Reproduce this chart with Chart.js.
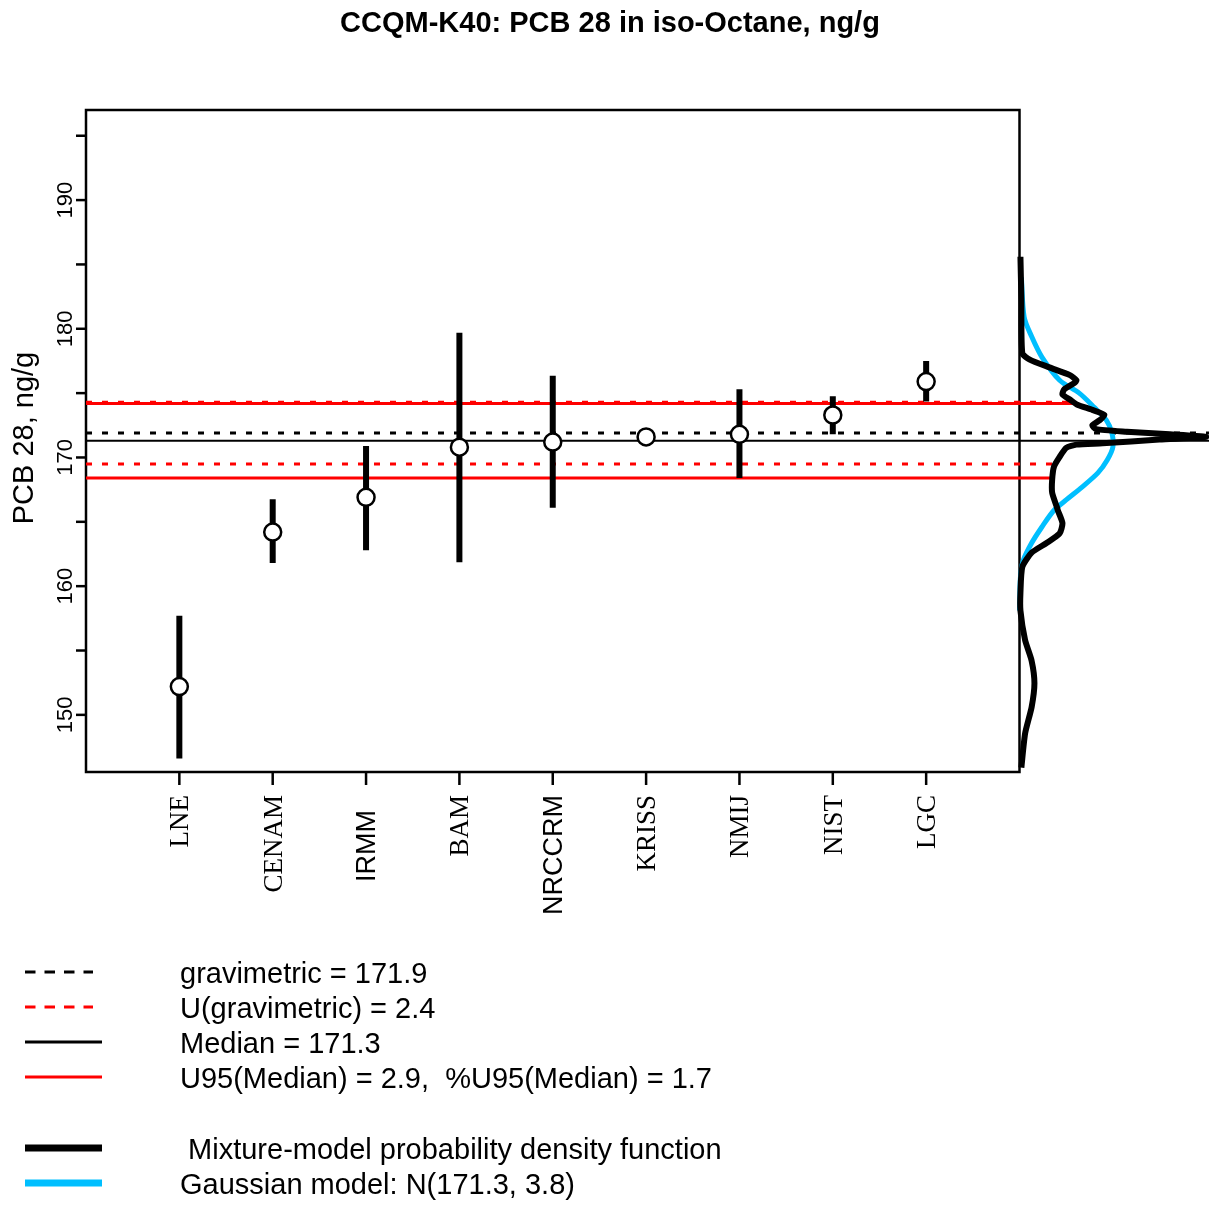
<!DOCTYPE html>
<html>
<head>
<meta charset="utf-8">
<script src="https://cdn.jsdelivr.net/npm/chart.js@4"></script>
<style>
  body { margin: 0; background: #fff; }
</style>
</head>
<body>
<canvas id="myChart" width="1209" height="1205"></canvas>
<script>
// lab results
const labs = ['LNE', 'CENAM', 'IRMM  ', 'BAM', 'NRCCRM', 'KRISS', 'NMIJ', 'NIST', 'LGC']
const sansLabs = ['IRMM  ', 'NRCCRM']
const results = [152.2, 164.2, 166.9, 170.8, 171.2, 171.6, 171.8, 173.3, 175.9]
const lower = [146.6, 161.8, 162.8, 161.85, 166.1, 171.1, 168.4, 171.8, 174.35]
const upper = [157.7, 166.75, 170.9, 179.7, 176.35, 172.1, 175.3, 174.75, 177.5]

const gravimetric = 171.9
const uGrav = 2.4
const median = 171.3
const u95 = 2.9
const pctU95 = 1.7

const yTicks = [150, 155, 160, 165, 170, 175, 180, 185, 190, 195]
const yLabels = [150, 160, 170, 180, 190]

// densities drawn in the right margin: level (ng/g) and height past the frame (x units)
const mixY = [185.6, 182.3, 178.1, 177.6, 177.0, 176.4, 176.0, 175.8, 175.3, 174.9, 174.5, 174.1, 173.7, 173.3, 172.9, 172.5, 172.2, 172.0, 171.8, 171.6, 171.4, 171.1, 171.0, 170.75, 170.05, 169.3, 168.3, 167.25, 166.15, 165.9, 164.9, 164.1, 163.35, 162.6, 161.5, 159.5, 158.1, 155.8, 154.2, 152.45, 150.6, 148.55, 145.9]
const mixD = [0.01, 0.02, 0.03, 0.11, 0.32, 0.54, 0.61, 0.59, 0.48, 0.46, 0.54, 0.62, 0.78, 0.91, 0.86, 0.78, 0.82, 1.15, 1.61, 2.0, 1.5, 0.89, 0.61, 0.50, 0.43, 0.37, 0.35, 0.35, 0.40, 0.41, 0.46, 0.43, 0.29, 0.13, 0.03, 0.01, 0.01, 0.06, 0.13, 0.16, 0.13, 0.06, 0.02]
const gaussY = [184.0, 180.9, 179.4, 177.8, 176.0, 175.0, 173.9, 172.9, 171.9, 170.8, 169.8, 168.8, 167.7, 166.7, 165.9, 164.6, 163.35, 162.0, 160.7, 158.1]
const gaussD = [0.02, 0.05, 0.13, 0.24, 0.43, 0.64, 0.80, 0.93, 0.99, 1.00, 0.94, 0.84, 0.67, 0.50, 0.37, 0.24, 0.13, 0.04, 0.01, 0.0]

const XMAX = 12.03
const FRAME_X = 10
const SANS = "'Liberation Sans', Arial, sans-serif"
const SERIF = "'Liberation Serif', 'Times New Roman', serif"
const CYAN = '#00BFFF'

const pts = results.map((v, i) => ({ x: i + 1, y: v }))
const bars = []
results.forEach((v, i) => {
    bars.push({ x: i + 1, y: lower[i] }, { x: i + 1, y: upper[i] }, { x: i + 1, y: null })
})
const hline = (v, x2) => [{ x: 0, y: v }, { x: x2, y: v }]

const datasets = [
    { data: pts, showLine: false, pointRadius: 8.5, pointBorderWidth: 2.5,
      pointBackgroundColor: '#fff', pointBorderColor: '#000', order: 0 },
    { data: bars, showLine: true, spanGaps: false, borderColor: '#000', borderWidth: 6,
      pointRadius: 0, order: 1 },
    { data: mixY.map((y, i) => ({ x: FRAME_X + mixD[i], y })), showLine: true,
      borderColor: '#000', borderWidth: 6, pointRadius: 0, tension: 0.2, borderJoinStyle: 'round', order: 2 },
    { data: gaussY.map((y, i) => ({ x: FRAME_X + gaussD[i], y })), showLine: true,
      borderColor: CYAN, borderWidth: 5, pointRadius: 0, tension: 0.3, order: 3 },
    { data: hline(median, XMAX), showLine: true, borderColor: '#000', borderWidth: 2, pointRadius: 0, order: 4 },
    { data: hline(gravimetric, XMAX), showLine: true, borderColor: '#000', borderWidth: 3,
      borderDash: [6, 10], pointRadius: 0, order: 5 },
    { data: hline(median + u95, 10.6), showLine: true, borderColor: '#f00', borderWidth: 3, pointRadius: 0, order: 6 },
    { data: hline(median - u95, 10.35), showLine: true, borderColor: '#f00', borderWidth: 3, pointRadius: 0, order: 6 },
    { data: hline(gravimetric + uGrav, 10.6), showLine: true, borderColor: '#f00', borderWidth: 3,
      borderDash: [6, 10], pointRadius: 0, order: 7 },
    { data: hline(gravimetric - uGrav, 10.4), showLine: true, borderColor: '#f00', borderWidth: 3,
      borderDash: [6, 10], pointRadius: 0, order: 7 }
]

const rotText = (ctx, text, x, y, align) => {
    ctx.save()
    ctx.translate(x, y)
    ctx.rotate(-Math.PI / 2)
    ctx.textAlign = align
    ctx.textBaseline = 'alphabetic'
    ctx.fillText(text, 0, 0)
    ctx.restore()
}

const legendRows = [
    { text: 'gravimetric = ' + gravimetric, color: '#000', w: 3, dash: [10.5, 9], x2: 93 },
    { text: 'U(gravimetric) = ' + uGrav, color: '#f00', w: 3, dash: [10.5, 9], x2: 93 },
    { text: 'Median = ' + median, color: '#000', w: 3, dash: [], x2: 102 },
    { text: 'U95(Median) = ' + u95 + ',  %U95(Median) = ' + pctU95, color: '#f00', w: 3, dash: [], x2: 102 },
    { gap: true },
    { text: ' Mixture-model probability density function', color: '#000', w: 7, dash: [], x2: 102 },
    { text: 'Gaussian model: N(' + median + ', 3.8)', color: CYAN, w: 7, dash: [], x2: 102 }
]

const axisArt = {
    id: 'axisArt',
    beforeDatasetsDraw(chart) {
        const { ctx, chartArea, scales: { x } } = chart
        ctx.save()
        ctx.strokeStyle = '#000'
        ctx.lineWidth = 2.5
        const right = x.getPixelForValue(FRAME_X)
        ctx.strokeRect(chartArea.left, chartArea.top, right - chartArea.left, chartArea.bottom - chartArea.top)
        ctx.restore()
    },
    afterDraw(chart) {
        const { ctx, chartArea, scales: { x, y } } = chart
        ctx.save()
        ctx.fillStyle = '#000'
        ctx.strokeStyle = '#000'
        ctx.lineWidth = 2.5

        // y ticks
        yTicks.forEach(v => {
            const py = y.getPixelForValue(v)
            ctx.beginPath()
            ctx.moveTo(chartArea.left - 10, py)
            ctx.lineTo(chartArea.left, py)
            ctx.stroke()
        })
        ctx.font = '22px ' + SANS
        yLabels.forEach(v => rotText(ctx, String(v), 72, y.getPixelForValue(v), 'center'))

        // x ticks + lab names
        labs.forEach((lab, i) => {
            const px = x.getPixelForValue(i + 1)
            ctx.beginPath()
            ctx.moveTo(px, chartArea.bottom)
            ctx.lineTo(px, chartArea.bottom + 13)
            ctx.stroke()
            ctx.font = '27px ' + (sansLabs.includes(lab) ? SANS : SERIF)
            rotText(ctx, lab, px + 9, 795, 'right')
        })

        // axis title
        ctx.font = '29px ' + SANS
        rotText(ctx, 'PCB 28, ng/g', 33, 438, 'center')

        // main title
        ctx.font = 'bold 29px ' + SANS
        ctx.textAlign = 'center'
        ctx.textBaseline = 'alphabetic'
        ctx.fillText('CCQM-K40: PCB 28 in iso-Octane, ng/g', 610, 32)

        // legend
        let ly = 972
        legendRows.forEach(r => {
            if (r.gap) { ly += 36; return }
            ctx.save()
            ctx.strokeStyle = r.color
            ctx.lineWidth = r.w
            ctx.setLineDash(r.dash)
            ctx.beginPath()
            ctx.moveTo(25, ly)
            ctx.lineTo(r.x2, ly)
            ctx.stroke()
            ctx.restore()
            ctx.font = '29px ' + SANS
            ctx.textAlign = 'left'
            ctx.fillText(r.text, 180, ly + 11)
            ly += 35
        })
        ctx.restore()
    }
}

new Chart(document.getElementById('myChart'), {
    type: 'scatter',
    data: { datasets },
    options: {
        animation: false,
        responsive: false,
        events: [],
        layout: { autoPadding: false, padding: { left: 86, top: 110, right: 0, bottom: 433 } },
        plugins: { legend: { display: false }, tooltip: { enabled: false } },
        scales: {
            x: { type: 'linear', min: 0, max: XMAX, display: false },
            y: { type: 'linear', min: 145.56, max: 197.0, display: false }
        }
    },
    plugins: [axisArt]
})
</script>
</body>
</html>
